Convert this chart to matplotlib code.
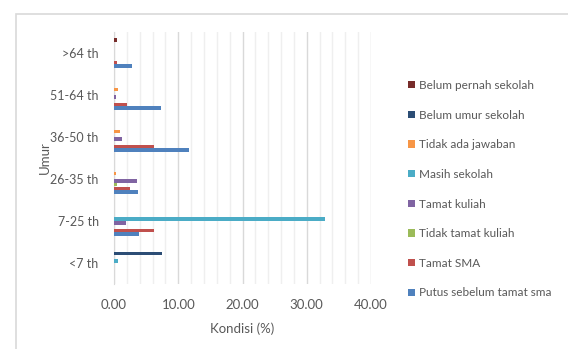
import matplotlib
matplotlib.use('Agg')
import matplotlib.pyplot as plt
from matplotlib.patches import Rectangle
import numpy as np

plt.rcParams['font.family'] = ['Lato', 'DejaVu Sans']

# data (percent)
umur = ['<7 th', '7-25 th', '26-35 th', '36-50 th', '51-64 th', '>64 th']
seri = ['Putus sebelum tamat sma', 'Tamat SMA', 'Tidak tamat kuliah', 'Tamat kuliah',
        'Masih sekolah', 'Tidak ada jawaban', 'Belum umur sekolah', 'Belum pernah sekolah']
putus = [0.0, 3.9, 3.8, 11.7, 7.25, 2.75]
tamat_sma = [0.0, 6.3, 2.5, 6.3, 2.0, 0.4]
tidak_tamat_kuliah = [0.0, 0.0, 0.4, 0.0, 0.0, 0.0]
tamat_kuliah = [0.0, 1.9, 3.6, 1.2, 0.3, 0.0]
masih_sekolah = [0.6, 32.8, 0.0, 0.0, 0.0, 0.0]
tidak_ada_jawaban = [0.0, 0.0, 0.25, 1.0, 0.7, 0.0]
belum_umur = [7.5, 0.0, 0.0, 0.0, 0.0, 0.0]
belum_pernah = [0.0, 0.0, 0.0, 0.0, 0.0, 0.45]
nilai = [putus, tamat_sma, tidak_tamat_kuliah, tamat_kuliah,
         masih_sekolah, tidak_ada_jawaban, belum_umur, belum_pernah]
warna = ['#4F81BD', '#C0504D', '#9BBB59', '#8064A2',
         '#4BACC6', '#F79646', '#2C4D75', '#772C2A']

fig = plt.figure(figsize=(5.68, 3.49), dpi=100)
# kotak abu-abu di sekeliling chart
fig.patches.append(Rectangle((16 / 568, -0.1), 1.1, 1 - 14 / 349 + 0.1,
                             transform=fig.transFigure, fill=False,
                             edgecolor='#D9D9D9', linewidth=1.2))

ax = fig.add_axes([114 / 568, 1 - 284 / 349, (371 - 114) / 568, (284 - 32) / 349])

y = np.arange(len(umur))
h = 0.088
for i, (vals, c, lab) in enumerate(zip(nilai, warna, seri)):
    ax.barh(y + (i - 3.5) * h, vals, height=h * 0.92, color=c, label=lab, zorder=3)

ax.set_xlim(0, 40)
ax.set_ylim(-0.5, len(umur) - 0.5)
ax.set_yticks(y)
ax.set_yticklabels(umur)
ax.set_xticks(np.arange(0, 41, 10))
ax.set_xticklabels(['%.2f' % v for v in np.arange(0, 41, 10)])
ax.set_xticks(np.arange(0, 41, 2), minor=True)
ax.grid(axis='x', which='major', color='#D9D9D9', linewidth=1.0, zorder=0)
ax.grid(axis='x', which='minor', color='#EFEFEF', linewidth=1.0, zorder=0)
ax.tick_params(axis='both', which='both', length=0, labelsize=9, colors='#595959')
ax.tick_params(axis='y', pad=11)
ax.tick_params(axis='x', labelsize=9.5, pad=11)
for s in ['top', 'right', 'bottom']:
    ax.spines[s].set_visible(False)
ax.spines['left'].set_color('#D9D9D9')

ax.set_xlabel('Kondisi (%)', fontsize=9.5, color='#595959', labelpad=8)
ax.set_ylabel('Umur', fontsize=9.5, color='#595959', labelpad=0)
ax.yaxis.set_label_coords(-0.245, 0.5)

handles, labels = ax.get_legend_handles_labels()
fig.legend(handles[::-1], labels[::-1], loc='upper left',
           bbox_to_anchor=(402 / 568, 1 - 74 / 349), frameon=False,
           fontsize=8.5, labelcolor='#595959', handlelength=0.6, handleheight=0.6,
           handletextpad=0.3, labelspacing=1.58, borderpad=0)

fig.savefig('out.png', dpi=100)
